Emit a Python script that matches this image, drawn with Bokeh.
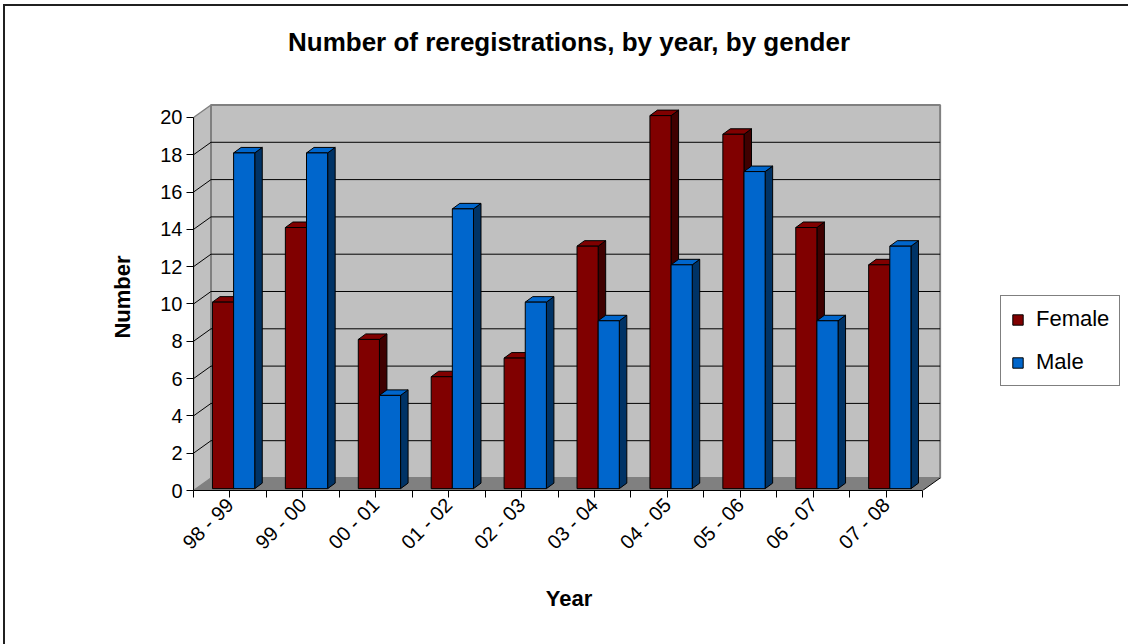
import math

from bokeh.embed import file_html
from bokeh.models import FixedTicker, Legend, LegendItem, Range1d
from bokeh.plotting import figure
from bokeh.resources import INLINE

# ---- data -----------------------------------------------------------------
years = ["98 - 99", "99 - 00", "00 - 01", "01 - 02", "02 - 03",
         "03 - 04", "04 - 05", "05 - 06", "06 - 07", "07 - 08"]
female = [10, 14, 8, 6, 7, 13, 20, 19, 14, 12]
male = [18, 18, 5, 15, 10, 9, 12, 17, 9, 13]
y_ticks = [0, 2, 4, 6, 8, 10, 12, 14, 16, 18, 20]

# ---- 3-D look (in data units) ---------------------------------------------
WALL_DX, WALL_DY = 0.24, 0.67      # depth of the chart box
BAR_DX, BAR_DY = 0.103, 0.295      # depth of one column
LIFT = 0.1                         # columns sit slightly behind the front edge
SLOT_F = (0.26, 0.55)              # female column, within one category
SLOT_M = (0.55, 0.84)              # male column

FONT = "Liberation Sans"

# page template: no scrollbars, thin dark chart-area frame on the top and left,
# and a clean white strip along the right edge of the page
FRAME_TEMPLATE = """
{% block postamble %}
<style>
html, body { overflow: hidden; }
body::before {
  content: ""; position: fixed; top: 7px; right: 0; width: 4px; bottom: 0;
  background: white; z-index: 10; pointer-events: none;
}
body::after {
  content: ""; position: fixed; left: 3px; top: 4px; right: -20px; bottom: -20px;
  border-left: 2px solid #202020; border-top: 2px solid #202020;
  z-index: 11; pointer-events: none;
}
</style>
{% endblock %}
"""

p = figure(frame_width=751, frame_height=387,
           output_backend="svg", toolbar_location=None,
           x_range=Range1d(0, 10.3), y_range=Range1d(0, 20.75),
           min_border_left=193, min_border_right=184,
           min_border_top=103, min_border_bottom=154)
p.outline_line_color = None
p.xgrid.visible = False
p.ygrid.visible = False
p.background_fill_color = "white"
p.border_fill_color = "white"

# title (a blank second line lifts the heading well above the chart box)
p.title.text = "Number of reregistrations, by year, by gender\n "
p.title.text_font = FONT
p.title.text_font_size = "26px"
p.title.text_font_style = "bold"
p.title.text_color = "black"
p.title.align = "center"
p.title.vertical_align = "bottom"
p.title.standoff = 34

# ---- walls and floor --------------------------------------------------------
n = len(years)
p.patch([0, 0, WALL_DX, WALL_DX], [0, 20, 20 + WALL_DY, WALL_DY],
        fill_color="#C0C0C0", line_color="#808080", line_width=1.5)
p.quad(left=[WALL_DX], right=[n + WALL_DX], bottom=[WALL_DY], top=[20 + WALL_DY],
       fill_color="#C0C0C0", line_color="#808080", line_width=2)
p.patch([0, n, n + WALL_DX, WALL_DX], [0, 0, WALL_DY, WALL_DY],
        fill_color="#808080", line_color=None)
p.line([n, n + WALL_DX], [0, WALL_DY], line_color="black", line_width=1)

# gridlines on the back and side walls
grid_vals = [v for v in y_ticks if 0 < v < 20]
p.multi_line(xs=[[WALL_DX, n + WALL_DX] for _ in grid_vals],
             ys=[[v + WALL_DY, v + WALL_DY] for v in grid_vals],
             line_color="black", line_width=1)
p.multi_line(xs=[[0, WALL_DX] for _ in grid_vals],
             ys=[[v, v + WALL_DY] for v in grid_vals],
             line_color="black", line_width=1)


def column_set(values, slot, front, top, side):
    x0 = [i + slot[0] for i in range(n)]
    x1 = [i + slot[1] for i in range(n)]
    lo = [LIFT] * n
    hi = [v + LIFT for v in values]
    side_xs = [[b, b + BAR_DX, b + BAR_DX, b] for b in x1]
    side_ys = [[l, l + BAR_DY, h + BAR_DY, h] for l, h in zip(lo, hi)]
    top_xs = [[a, b, b + BAR_DX, a + BAR_DX] for a, b in zip(x0, x1)]
    top_ys = [[h, h, h + BAR_DY, h + BAR_DY] for h in hi]
    p.patches(side_xs, side_ys, fill_color=side, line_color="black", line_width=1)
    p.patches(top_xs, top_ys, fill_color=top, line_color="black", line_width=1)
    return p.quad(left=x0, right=x1, bottom=lo, top=hi,
                  fill_color=front, line_color="black", line_width=1)


r_f = column_set(female, SLOT_F, "#800000", "#800000", "#3F0000")
r_m = column_set(male, SLOT_M, "#0066CC", "#0066CC", "#003366")

# ---- axes -------------------------------------------------------------------
yax = p.yaxis[0]
yax.ticker = FixedTicker(ticks=y_ticks)
yax.bounds = (0, 20)
yax.axis_label = "Number"
yax.axis_label_text_font = FONT
yax.axis_label_text_font_size = "22px"
yax.axis_label_text_font_style = "bold"
yax.axis_label_text_color = "black"
yax.axis_label_standoff = 22
yax.major_label_text_font = FONT
yax.major_label_text_font_size = "20px"
yax.major_label_text_color = "black"
yax.major_label_standoff = 4
yax.major_tick_in = 0
yax.major_tick_out = 7
yax.minor_tick_line_color = None
yax.axis_line_color = "black"
yax.major_tick_line_color = "black"

xax = p.xaxis[0]
centers = [i + 0.5 for i in range(n)]
xax.ticker = FixedTicker(ticks=centers, minor_ticks=list(range(n + 1)))
xax.major_label_overrides = {c: lab for c, lab in zip(centers, years)}
xax.major_label_orientation = math.pi / 4
xax.bounds = (0, n)
xax.axis_label = "Year"
xax.axis_label_text_font = FONT
xax.axis_label_text_font_size = "22px"
xax.axis_label_text_font_style = "bold"
xax.axis_label_text_color = "black"
xax.axis_label_standoff = 22
xax.major_label_text_font = FONT
xax.major_label_text_font_size = "20px"
xax.major_label_text_color = "black"
xax.major_label_standoff = 4
xax.major_tick_in = 0
xax.major_tick_out = 7
xax.minor_tick_in = 0
xax.minor_tick_out = 7
xax.minor_tick_line_color = "black"
xax.axis_line_color = "black"
xax.major_tick_line_color = "black"

# ---- legend -----------------------------------------------------------------
legend = Legend(items=[LegendItem(label="Female", renderers=[r_f]),
                       LegendItem(label="Male", renderers=[r_m])],
                location=(56, 104), orientation="vertical",
                glyph_width=13, glyph_height=13, label_height=22,
                label_width=60, spacing=17, padding=10, margin=0,
                label_standoff=12, label_text_font=FONT,
                label_text_font_size="22px", label_text_color="black",
                border_line_color="black", border_line_width=1,
                background_fill_color="white", background_fill_alpha=1)
p.add_layout(legend, "right")

open("out.html", "w").write(file_html(p, INLINE, template=FRAME_TEMPLATE))
